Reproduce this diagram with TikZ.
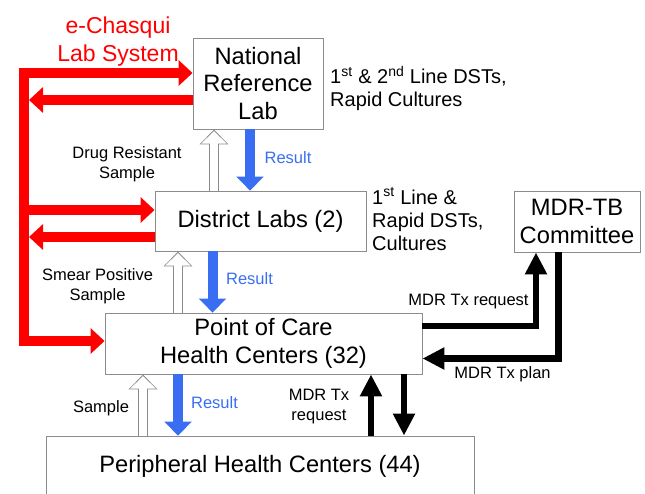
\documentclass[tikz,border=0pt]{standalone}
\usepackage{fontspec}
\setmainfont{Liberation Sans}
\usetikzlibrary{arrows.meta,calc}
\definecolor{ered}{HTML}{FF0000}
\definecolor{eblue}{HTML}{3A6EF2}
\definecolor{boxgray}{HTML}{8C8C8C}
\tikzset{
  box/.style={draw=boxgray, line width=0.9pt, fill=white, align=center, inner sep=0pt, font=\fontsize{23.7}{27.5}\selectfont},
  lbl/.style={align=center, inner sep=0pt, font=\fontsize{16.5}{20}\selectfont},
  side/.style={align=left, inner sep=0pt, anchor=west, font=\fontsize{20}{23}\selectfont},
  res/.style={lbl, text=eblue},
  redarr/.style={draw=ered, line width=10pt, -{Triangle[length=14pt,width=25pt]}},
  bluearr/.style={draw=eblue, line width=10pt, -{Triangle[length=14pt,width=27pt]}},
  blkarr/.style={draw=black, line width=6.5pt, -{Triangle[length=22pt,width=21pt]}},
  hollowA/.style={draw=boxgray, line width=10.5pt, -{Triangle[length=15pt,width=28pt]}},
  hollowB/.style={draw=white, line width=8.5pt, shorten >=1.6pt, -{Triangle[length=12.5pt,width=24.5pt]}}
}
\begin{document}
\begin{tikzpicture}[x=1pt,y=-1pt]
\useasboundingbox (0,0) rectangle (645,493);

% boxes
\node[box, minimum width=130pt, minimum height=91pt] (nrl) at (258,83.5) {National\\Reference\\Lab};
\node[box, minimum width=211pt, minimum height=60pt] (dl) at (260.5,221) {District Labs (2)};
\node[box, minimum width=317pt, minimum height=61pt] (poc) at (263.5,343.5) {Point of Care\\Health Centers (32)};
\node[box, minimum width=428pt, minimum height=60pt] (phc) at (260,466) {Peripheral Health Centers (44)};
\node[box, minimum width=126pt, minimum height=61pt] (mdr) at (577,221.5) {MDR-TB\\Committee};

% red e-Chasqui arrows
\coordinate (rtop) at (24,73);
\coordinate (rbot) at (24,341);
\coordinate (rail) at (29,0);
\coordinate (y1) at (0,100);
\coordinate (y2) at (0,210);
\coordinate (y3) at (0,237);
\draw[redarr] (rtop) -- (rbot) -- (rbot -| poc.west);
\draw[redarr] ([xshift=-5pt]rtop) -- (rtop -| nrl.west);
\draw[redarr] (nrl.west |- y1) -- (rail |- y1);
\draw[redarr] (rtop |- y2) -- (dl.west |- y2);
\draw[redarr] (dl.west |- y3) -- (rail |- y3);

% hollow sample arrows
\coordinate (h1) at (214,0);
\coordinate (h2) at (178,0);
\coordinate (h3) at (143,0);
\draw[hollowA] (h1 |- dl.north) -- (h1 |- nrl.south);
\draw[hollowB] (h1 |- dl.north) -- (h1 |- nrl.south);
\draw[hollowA] (h2 |- poc.north) -- (h2 |- dl.south);
\draw[hollowB] (h2 |- poc.north) -- (h2 |- dl.south);
\draw[hollowA] (h3 |- phc.north) -- (h3 |- poc.south);
\draw[hollowB] (h3 |- phc.north) -- (h3 |- poc.south);

% blue result arrows
\coordinate (b1) at (250,0);
\coordinate (b2) at (212.5,0);
\coordinate (b3) at (178,0);
\draw[bluearr] (b1 |- nrl.south) -- (b1 |- dl.north);
\draw[bluearr] (b2 |- dl.south) -- (b2 |- poc.north);
\draw[bluearr] (b3 |- poc.south) -- (b3 |- phc.north);

% black MDR arrows
\coordinate (k1) at (536,326);
\coordinate (k2) at (558.5,358.5);
\coordinate (k3) at (371,0);
\coordinate (k4) at (404,0);
\draw[blkarr] (poc.east |- k1) -- (k1) -- (k1 |- mdr.south);
\draw[blkarr] (k2 |- mdr.south) -- (k2) -- (poc.east |- k2);
\draw[blkarr] (k3 |- phc.north) -- (k3 |- poc.south);
\draw[blkarr] (k4 |- poc.south) -- (k4 |- phc.north);

% labels
\node[align=center, inner sep=0pt, text=ered, font=\fontsize{23}{28}\selectfont] (ech) at (118,41.5) {e-Chasqui\\Lab System};
\node[lbl] (drs) at (127,164) {Drug Resistant\\Sample};
\node[lbl] (sps) at (97.5,286) {Smear Positive\\Sample};
\node[lbl] (smp) at (101,408) {Sample};
\node[res] (r1) at (288,158) {Result};
\node[res] (r2) at (249.5,279) {Result};
\node[res] (r3) at (214.5,403) {Result};
\node[side] (nrlt) at (330,88.5) {1\textsuperscript{st} \& 2\textsuperscript{nd} Line DSTs,\\Rapid Cultures};
\node[side] (dlt) at (372,219) {1\textsuperscript{st} Line \&\\Rapid DSTs,\\Cultures};
\node[lbl] (mreq) at (468.5,301.5) {MDR Tx request};
\node[lbl] (mplan) at (502.5,374) {MDR Tx plan};
\node[lbl] (mreq2) at (319,407) {MDR Tx\\request};
\end{tikzpicture}
\end{document}
